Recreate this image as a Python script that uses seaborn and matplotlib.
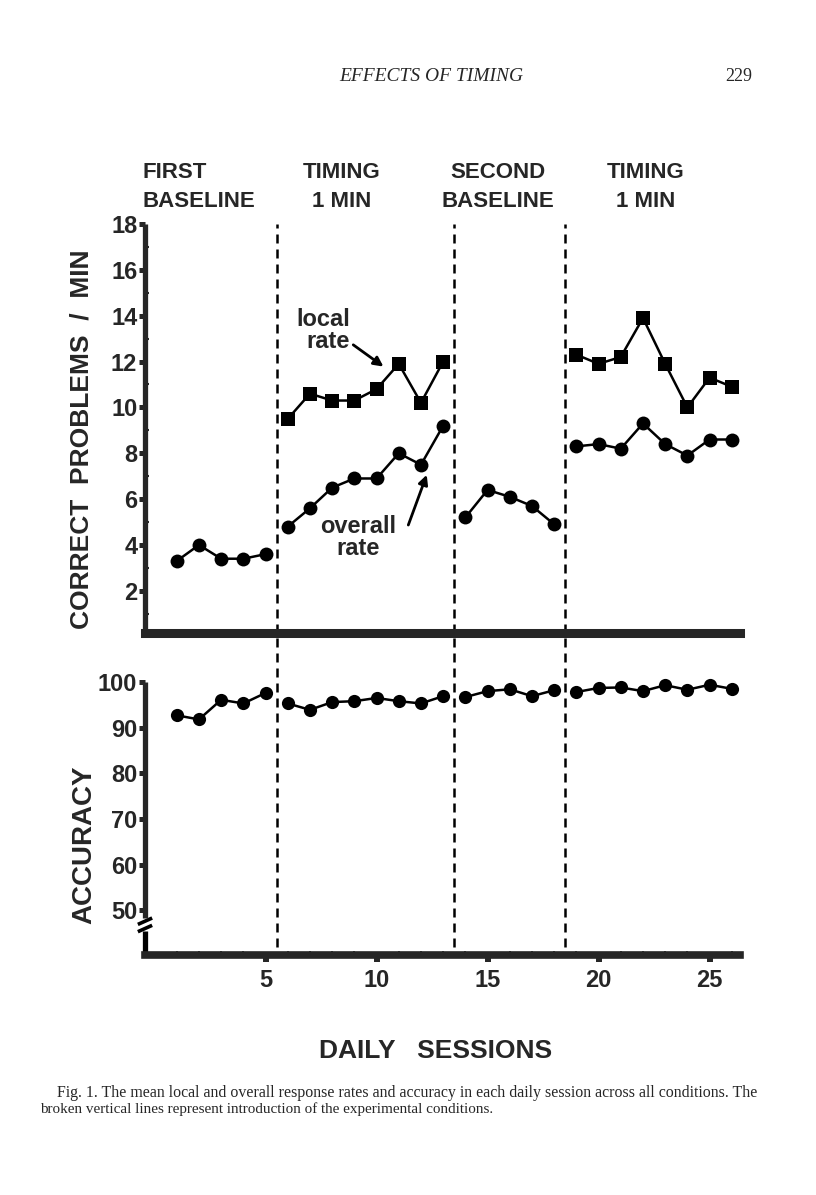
import numpy as np
import pandas as pd
import matplotlib
matplotlib.use('Agg')
import matplotlib.pyplot as plt
import matplotlib.transforms as mtransforms
import seaborn as sns

# Data
sessions = list(range(1, 27))
phases = (['first_baseline'] * 5 + ['timing_1'] * 8 +
          ['second_baseline'] * 5 + ['timing_2'] * 8)
overall_rate = [3.3, 4.0, 3.4, 3.4, 3.6,
                4.8, 5.6, 6.5, 6.9, 6.9, 8.0, 7.5, 9.2,
                5.2, 6.4, 6.1, 5.7, 4.9,
                8.3, 8.4, 8.2, 9.3, 8.4, 7.9, 8.6, 8.6]
local_sessions = list(range(6, 14)) + list(range(19, 27))
local_phases = ['timing_1'] * 8 + ['timing_2'] * 8
local_rate = [9.5, 10.6, 10.3, 10.3, 10.8, 11.9, 10.2, 12.0,
              12.3, 11.9, 12.2, 13.9, 11.9, 10.0, 11.3, 10.9]
accuracy = [92.7, 91.8, 96.1, 95.3, 97.6,
            95.3, 93.9, 95.6, 95.8, 96.5, 95.8, 95.3, 96.9,
            96.7, 98.0, 98.4, 96.9, 98.2,
            97.8, 98.7, 98.8, 98.0, 99.3, 98.3, 99.4, 98.5]
phase_changes = [5.5, 13.5, 18.5]
phase_names = [('FIRST', 'BASELINE'), ('TIMING', '1 MIN'),
               ('SECOND', 'BASELINE'), ('TIMING', '1 MIN')]

df = pd.DataFrame({'session': sessions, 'phase': phases,
                   'overall': overall_rate, 'accuracy': accuracy})
df_local = pd.DataFrame({'session': local_sessions, 'phase': local_phases,
                         'local': local_rate})

sns.set_style('ticks')
plt.rcParams['font.family'] = ['Liberation Sans', 'DejaVu Sans']
plt.rcParams['font.weight'] = 'bold'

W, H = 816, 1195
fig = plt.figure(figsize=(W / 100, H / 100), dpi=100)


def fx(px):
    return px / W


def fy(py):
    return 1 - py / H


XLIM = (-0.43, 26.37)
ax1 = fig.add_axes([fx(145), fy(633), fx(740) - fx(145), fy(224) - fy(633)])
ax2 = fig.add_axes([fx(145), fy(955), fx(740) - fx(145), fy(682) - fy(955)])

line_kw = dict(color='black', linewidth=1.8, markersize=10,
               markeredgewidth=0, clip_on=False, legend=False)

sns.lineplot(data=df, x='session', y='overall', units='phase', estimator=None,
             marker='o', ax=ax1, **line_kw)
sns.lineplot(data=df_local, x='session', y='local', units='phase', estimator=None,
             marker='s', ax=ax1, **line_kw)
sns.lineplot(data=df, x='session', y='accuracy', units='phase', estimator=None,
             marker='o', ax=ax2, **dict(line_kw, markersize=9.5))

# top panel
ax1.set_xlim(*XLIM)
ax1.set_ylim(0.16, 18)
ax1.set_yticks(range(2, 19, 2))
ax1.set_yticks(range(1, 18, 2), minor=True)
ax1.tick_params(axis='y', which='major', direction='out', length=4.5, width=3.6,
                labelsize=17, pad=1)
ax1.tick_params(axis='y', which='minor', direction='in', length=3, width=1.5)
ax1.tick_params(axis='x', bottom=False, labelbottom=False, which='both')
ax1.set_xlabel('')
ax1.set_ylabel('')

# bottom panel
ax2.set_xlim(*XLIM)
ax2.set_ylim(40.2, 100)
ax2.set_yticks(range(50, 101, 10))
ax2.set_xticks(range(5, 26, 5))
ax2.set_xticks(range(1, 27), minor=True)
ax2.tick_params(axis='y', which='major', direction='out', length=4.5, width=3.6,
                labelsize=17, pad=1)
ax2.tick_params(axis='x', which='major', direction='out', length=5, width=4.3,
                labelsize=17, pad=5)
ax2.tick_params(axis='x', which='minor', direction='in', length=3, width=1.3)
ax2.set_xlabel('')
ax2.set_ylabel('')

for ax in (ax1, ax2):
    sns.despine(ax=ax)
    ax.spines['left'].set_linewidth(3.8)
    ax.spines['left'].set_capstyle('butt')
ax1.spines['bottom'].set_linewidth(6.5)
ax2.spines['bottom'].set_linewidth(5.5)

# axis break on accuracy axis
ax2.spines['left'].set_bounds(48.4, 100)
trans = mtransforms.blended_transform_factory(ax2.transAxes, ax2.transData)
ax2.plot([0, 0], [40.2, 45.4], transform=trans, color='black', lw=3.8,
         clip_on=False, solid_capstyle='butt')
for yb in (46.0, 47.6):
    ax2.plot([-0.012, 0.012], [yb - 0.7, yb + 0.7], transform=trans,
             color='black', lw=2.6, clip_on=False, solid_capstyle='butt')

# phase change lines
dash = (0, (3.6, 2.4))
for xc in phase_changes:
    ax1.axvline(xc, ymin=0, ymax=1.0, color='black', lw=1.8, linestyle=dash,
                clip_on=False)
    ax2.axvline(xc, ymin=0.03, ymax=1.18, color='black', lw=1.8, linestyle=dash,
                clip_on=False)

# annotations
ax1.text(8.81, 13.53, 'local', ha='right', va='baseline', fontsize=17)
ax1.text(8.81, 12.59, 'rate', ha='right', va='baseline', fontsize=17)
ax1.annotate('', xy=(10.31, 11.78), xytext=(8.95, 12.73),
             arrowprops=dict(arrowstyle='-|>', color='black', lw=2,
                             mutation_scale=14, shrinkA=0, shrinkB=0))
ax1.text(9.17, 4.52, 'overall', ha='center', va='baseline', fontsize=17)
ax1.text(9.17, 3.56, 'rate', ha='center', va='baseline', fontsize=17)
ax1.annotate('', xy=(12.26, 7.06), xytext=(11.43, 4.87),
             arrowprops=dict(arrowstyle='-|>', color='black', lw=2,
                             mutation_scale=14, shrinkA=0, shrinkB=0))

# phase labels
label_pos = [(143, 'left'), (341.7, 'center'), (498, 'center'), (646, 'center')]
for (top, bottom), (px, ha) in zip(phase_names, label_pos):
    fig.text(fx(px), fy(178), top, ha=ha, va='baseline', fontsize=16)
    fig.text(fx(px), fy(207), bottom, ha=ha, va='baseline', fontsize=16)

# axis titles
fig.text(fx(82), fy(439), 'CORRECT  PROBLEMS  /  MIN', rotation=90,
         ha='center', va='center', fontsize=19)
fig.text(fx(84), fy(845), 'ACCURACY', rotation=90, ha='center', va='center',
         fontsize=20)
fig.text(fx(436), fy(1051), 'DAILY   SESSIONS', ha='center', va='center',
         fontsize=19)

# page header and caption
serif = ['Liberation Serif', 'DejaVu Serif']
fig.text(fx(431), fy(81), 'EFFECTS OF TIMING', ha='center', va='baseline',
         fontsize=14, style='italic', fontweight='normal', family=serif)
fig.text(fx(752), fy(81), '229', ha='right', va='baseline', fontsize=13,
         fontweight='normal', family=serif)
fig.text(fx(57), fy(1097), 'Fig. 1. The mean local and overall response rates and '
         'accuracy in each daily session across all conditions. The',
         ha='left', va='baseline', fontsize=11.4, fontweight='normal', family=serif)
fig.text(fx(40), fy(1113), 'broken vertical lines represent introduction of the '
         'experimental conditions.', ha='left', va='baseline', fontsize=10.9,
         fontweight='normal', family=serif)

fig.savefig('out.png', dpi=100, facecolor='white')
